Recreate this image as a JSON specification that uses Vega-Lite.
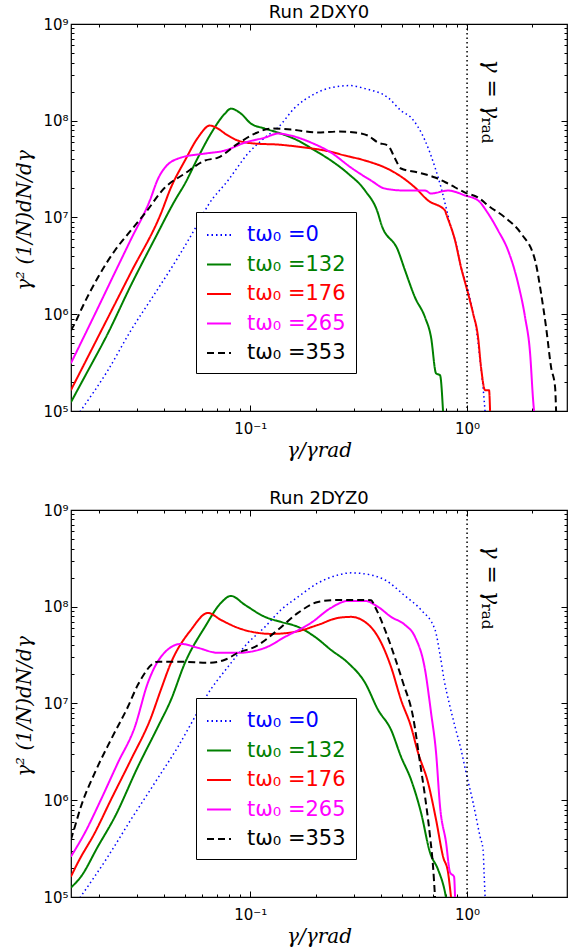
{
 "$schema": "https://vega.github.io/schema/vega-lite/v6.json",
 "background": "white",
 "padding": {"left": 14, "top": 3, "right": 2, "bottom": 0},
 "spacing": 28,
 "config": {
  "view": {"stroke": "black", "strokeWidth": 1.2},
  "font": "DejaVu Sans",
  "title": {"font": "DejaVu Sans", "fontSize": 18, "fontWeight": "normal", "color": "black", "offset": -5},
  "axis": {"grid": false, "domain": false, "tickColor": "black", "tickWidth": 1, "labelColor": "black", "labelFont": "DejaVu Sans", "labelFontSize": 15, "titleFont": "DejaVu Serif", "titleFontStyle": "italic", "titleFontWeight": "normal", "titleFontSize": 20, "titleColor": "black", "labelFlush": false, "labelOverlap": false, "labelBound": false, "zindex": 1}
 },
 "resolve": {"scale": {"color": "independent", "strokeDash": "independent"}},
 "datasets": {
  "top": [
   {"t":0,"x":0.01637,"y":98000},{"t":0,"x":0.02204,"y":263000},{"t":0,"x":0.02815,"y":681000},{"t":0,"x":0.03633,"y":1640000},{"t":0,"x":0.04639,"y":3860000},{"t":0,"x":0.05737,"y":8670000},{"t":0,"x":0.0638,"y":13300000},{"t":0,"x":0.07889,"y":24100000},{"t":0,"x":0.09759,"y":45800000},{"t":0,"x":0.1169,"y":67000000},{"t":0,"x":0.1342,"y":85000000},{"t":0,"x":0.1608,"y":136700000},{"t":0,"x":0.1989,"y":190700000},{"t":0,"x":0.2357,"y":219900000},{"t":0,"x":0.2884,"y":231000000},{"t":0,"x":0.3383,"y":214800000},{"t":0,"x":0.4319,"y":173400000},{"t":0,"x":0.4958,"y":127300000},{"t":0,"x":0.5516,"y":107800000},{"t":0,"x":0.64,"y":62400000},{"t":0,"x":0.7118,"y":32800000},{"t":0,"x":0.7586,"y":20400000},{"t":0,"x":0.8,"y":12700000},{"t":0,"x":0.8437,"y":7880000},{"t":0,"x":0.8896,"y":5390000},{"t":0,"x":0.9382,"y":3050000},{"t":0,"x":1.0107,"y":1760000},{"t":0,"x":1.066,"y":1020000},{"t":0,"x":1.1,"y":731000},{"t":0,"x":1.148,"y":334000},{"t":0,"x":1.185,"y":176000},{"t":0,"x":1.211,"y":98000},
   {"t":132,"x":0.01488,"y":123000},{"t":132,"x":0.01727,"y":228000},{"t":132,"x":0.02204,"y":634000},{"t":132,"x":0.02815,"y":1990000},{"t":132,"x":0.03633,"y":6070000},{"t":132,"x":0.04493,"y":15000000},{"t":132,"x":0.04997,"y":22400000},{"t":132,"x":0.05737,"y":41600000},{"t":132,"x":0.06586,"y":73700000},{"t":132,"x":0.07641,"y":118500000},{"t":132,"x":0.08144,"y":133500000},{"t":132,"x":0.0906,"y":118500000},{"t":132,"x":0.1007,"y":93500000},{"t":132,"x":0.1169,"y":83000000},{"t":132,"x":0.1385,"y":73700000},{"t":132,"x":0.166,"y":62400000},{"t":132,"x":0.1989,"y":49200000},{"t":132,"x":0.2357,"y":38800000},{"t":132,"x":0.2824,"y":28500000},{"t":132,"x":0.3383,"y":19000000},{"t":132,"x":0.3885,"y":11000000},{"t":132,"x":0.401,"y":8670000},{"t":132,"x":0.4803,"y":4560000},{"t":132,"x":0.5174,"y":2840000},{"t":132,"x":0.5754,"y":1490000},{"t":132,"x":0.64,"y":928000},{"t":132,"x":0.6822,"y":577000},{"t":132,"x":0.7194,"y":245000},{"t":132,"x":0.7506,"y":234000},{"t":132,"x":0.7749,"y":98000},
   {"t":176,"x":0.01488,"y":164000},{"t":176,"x":0.01982,"y":577000},{"t":176,"x":0.02815,"y":2700000},{"t":176,"x":0.03872,"y":11000000},{"t":176,"x":0.04307,"y":20400000},{"t":176,"x":0.04997,"y":38800000},{"t":176,"x":0.05737,"y":67000000},{"t":176,"x":0.06516,"y":89100000},{"t":176,"x":0.07095,"y":83000000},{"t":176,"x":0.07641,"y":73700000},{"t":176,"x":0.08773,"y":62400000},{"t":176,"x":0.1051,"y":58100000},{"t":176,"x":0.1342,"y":56700000},{"t":176,"x":0.1788,"y":52800000},{"t":176,"x":0.2212,"y":49200000},{"t":176,"x":0.2735,"y":43700000},{"t":176,"x":0.3383,"y":38800000},{"t":176,"x":0.4184,"y":32800000},{"t":176,"x":0.4459,"y":30600000},{"t":176,"x":0.5754,"y":20400000},{"t":176,"x":0.6607,"y":15000000},{"t":176,"x":0.7916,"y":11800000},{"t":176,"x":0.8,"y":11000000},{"t":176,"x":0.8802,"y":5790000},{"t":176,"x":0.9382,"y":3050000},{"t":176,"x":1.0107,"y":1640000},{"t":176,"x":1.066,"y":1020000},{"t":176,"x":1.124,"y":577000},{"t":176,"x":1.16,"y":283000},{"t":176,"x":1.211,"y":164000},{"t":176,"x":1.263,"y":164000},{"t":176,"x":1.277,"y":98000},
   {"t":265,"x":0.01488,"y":311000},{"t":265,"x":0.01982,"y":1160000},{"t":265,"x":0.02375,"y":2700000},{"t":265,"x":0.02815,"y":5930000},{"t":265,"x":0.03444,"y":15000000},{"t":265,"x":0.0375,"y":25000000},{"t":265,"x":0.04041,"y":32800000},{"t":265,"x":0.04789,"y":41600000},{"t":265,"x":0.0618,"y":45800000},{"t":265,"x":0.07641,"y":49200000},{"t":265,"x":0.09452,"y":59500000},{"t":265,"x":0.1169,"y":67000000},{"t":265,"x":0.1342,"y":73700000},{"t":265,"x":0.1541,"y":70200000},{"t":265,"x":0.1906,"y":59500000},{"t":265,"x":0.2357,"y":46900000},{"t":265,"x":0.2915,"y":32800000},{"t":265,"x":0.3606,"y":24100000},{"t":265,"x":0.4184,"y":19900000},{"t":265,"x":0.5174,"y":19000000},{"t":265,"x":0.64,"y":19000000},{"t":265,"x":0.6822,"y":17700000},{"t":265,"x":0.8171,"y":19000000},{"t":265,"x":0.979,"y":16900000},{"t":265,"x":1.124,"y":15000000},{"t":265,"x":1.25,"y":11000000},{"t":265,"x":1.39,"y":7340000},{"t":265,"x":1.546,"y":4560000},{"t":265,"x":1.719,"y":2080000},{"t":265,"x":1.852,"y":928000},{"t":265,"x":1.953,"y":394000},{"t":265,"x":2.017,"y":129000},{"t":265,"x":2.038,"y":98000},
   {"t":353,"x":0.01488,"y":681000},{"t":353,"x":0.01552,"y":804000},{"t":353,"x":0.01655,"y":1100000},{"t":353,"x":0.01982,"y":2400000},{"t":353,"x":0.02375,"y":4560000},{"t":353,"x":0.02815,"y":7340000},{"t":353,"x":0.03266,"y":11000000},{"t":353,"x":0.04041,"y":20400000},{"t":353,"x":0.04997,"y":28500000},{"t":353,"x":0.0618,"y":38800000},{"t":353,"x":0.07095,"y":41600000},{"t":353,"x":0.08773,"y":58100000},{"t":353,"x":0.1051,"y":73700000},{"t":353,"x":0.1246,"y":83000000},{"t":353,"x":0.1541,"y":81000000},{"t":353,"x":0.2053,"y":75500000},{"t":353,"x":0.254,"y":77300000},{"t":353,"x":0.3042,"y":75500000},{"t":353,"x":0.3492,"y":70200000},{"t":353,"x":0.3885,"y":59500000},{"t":353,"x":0.4319,"y":55400000},{"t":353,"x":0.4652,"y":40700000},{"t":353,"x":0.4958,"y":32100000},{"t":353,"x":0.5941,"y":29200000},{"t":353,"x":0.7118,"y":25900000},{"t":353,"x":0.8171,"y":22400000},{"t":353,"x":0.979,"y":18100000},{"t":353,"x":1.124,"y":16100000},{"t":353,"x":1.25,"y":13300000},{"t":353,"x":1.497,"y":10000000},{"t":353,"x":1.775,"y":6840000},{"t":353,"x":2.06,"y":3600000},{"t":353,"x":2.195,"y":1640000},{"t":353,"x":2.315,"y":731000},{"t":353,"x":2.441,"y":283000},{"t":353,"x":2.547,"y":176000},{"t":353,"x":2.574,"y":98000}
  ],
  "bot": [
   {"t":0,"x":0.01637,"y":98000},{"t":0,"x":0.02204,"y":261000},{"t":0,"x":0.02815,"y":630000},{"t":0,"x":0.03633,"y":1520000},{"t":0,"x":0.04639,"y":3570000},{"t":0,"x":0.05557,"y":7290000},{"t":0,"x":0.06246,"y":11700000},{"t":0,"x":0.07889,"y":23900000},{"t":0,"x":0.09759,"y":42400000},{"t":0,"x":0.1169,"y":61900000},{"t":0,"x":0.1385,"y":92800000},{"t":0,"x":0.166,"y":126400000},{"t":0,"x":0.2053,"y":176000000},{"t":0,"x":0.254,"y":213000000},{"t":0,"x":0.2915,"y":224000000},{"t":0,"x":0.3606,"y":213000000},{"t":0,"x":0.4184,"y":189000000},{"t":0,"x":0.5174,"y":129400000},{"t":0,"x":0.6133,"y":92800000},{"t":0,"x":0.7118,"y":57700000},{"t":0,"x":0.7506,"y":31800000},{"t":0,"x":0.7833,"y":17600000},{"t":0,"x":0.8259,"y":10200000},{"t":0,"x":0.8802,"y":5750000},{"t":0,"x":0.9382,"y":3330000},{"t":0,"x":0.9894,"y":1930000},{"t":0,"x":1.066,"y":944000},{"t":0,"x":1.148,"y":421000},{"t":0,"x":1.185,"y":309000},{"t":0,"x":1.198,"y":179000},{"t":0,"x":1.211,"y":98000},
   {"t":132,"x":0.01488,"y":125000},{"t":132,"x":0.01655,"y":162000},{"t":132,"x":0.01982,"y":332000},{"t":132,"x":0.02375,"y":676000},{"t":132,"x":0.03032,"y":2220000},{"t":132,"x":0.03751,"y":5750000},{"t":132,"x":0.04307,"y":10900000},{"t":132,"x":0.04997,"y":26300000},{"t":132,"x":0.0618,"y":61900000},{"t":132,"x":0.07325,"y":109600000},{"t":132,"x":0.08144,"y":129400000},{"t":132,"x":0.09452,"y":104500000},{"t":132,"x":0.1169,"y":78600000},{"t":132,"x":0.1385,"y":69700000},{"t":132,"x":0.166,"y":61900000},{"t":132,"x":0.1989,"y":48800000},{"t":132,"x":0.2357,"y":35800000},{"t":132,"x":0.2824,"y":26300000},{"t":132,"x":0.3383,"y":16400000},{"t":132,"x":0.3885,"y":8610000},{"t":132,"x":0.4459,"y":5350000},{"t":132,"x":0.4958,"y":2820000},{"t":132,"x":0.5516,"y":1630000},{"t":132,"x":0.6133,"y":744000},{"t":132,"x":0.675,"y":287000},{"t":132,"x":0.7349,"y":192000},{"t":132,"x":0.7916,"y":111000},{"t":132,"x":0.8,"y":98000},
   {"t":176,"x":0.01488,"y":162000},{"t":176,"x":0.01603,"y":227000},{"t":176,"x":0.0192,"y":462000},{"t":176,"x":0.02276,"y":1010000},{"t":176,"x":0.02815,"y":2620000},{"t":176,"x":0.03481,"y":7120000},{"t":176,"x":0.03872,"y":13900000},{"t":176,"x":0.04307,"y":26300000},{"t":176,"x":0.05326,"y":57700000},{"t":176,"x":0.0638,"y":86400000},{"t":176,"x":0.07325,"y":73100000},{"t":176,"x":0.08773,"y":60500000},{"t":176,"x":0.1085,"y":53700000},{"t":176,"x":0.1246,"y":52400000},{"t":176,"x":0.1608,"y":55000000},{"t":176,"x":0.2053,"y":64900000},{"t":176,"x":0.254,"y":76700000},{"t":176,"x":0.2915,"y":78600000},{"t":176,"x":0.3383,"y":69700000},{"t":176,"x":0.3885,"y":48800000},{"t":176,"x":0.4459,"y":23900000},{"t":176,"x":0.4958,"y":10900000},{"t":176,"x":0.5516,"y":5750000},{"t":176,"x":0.5941,"y":3100000},{"t":176,"x":0.6607,"y":1520000},{"t":176,"x":0.7194,"y":630000},{"t":176,"x":0.7749,"y":261000},{"t":176,"x":0.8171,"y":179000},{"t":176,"x":0.8437,"y":98000},
   {"t":265,"x":0.01488,"y":261000},{"t":265,"x":0.01727,"y":462000},{"t":265,"x":0.02046,"y":1010000},{"t":265,"x":0.02452,"y":2440000},{"t":265,"x":0.02937,"y":5750000},{"t":265,"x":0.03372,"y":16400000},{"t":265,"x":0.03872,"y":30300000},{"t":265,"x":0.04789,"y":41300000},{"t":265,"x":0.05737,"y":37600000},{"t":265,"x":0.07095,"y":33400000},{"t":265,"x":0.08773,"y":33400000},{"t":265,"x":0.1169,"y":37600000},{"t":265,"x":0.1446,"y":48800000},{"t":265,"x":0.1906,"y":68100000},{"t":265,"x":0.2357,"y":97300000},{"t":265,"x":0.2824,"y":114900000},{"t":265,"x":0.3383,"y":114900000},{"t":265,"x":0.3885,"y":99700000},{"t":265,"x":0.4459,"y":78600000},{"t":265,"x":0.5174,"y":64900000},{"t":265,"x":0.5754,"y":48800000},{"t":265,"x":0.64,"y":22300000},{"t":265,"x":0.6822,"y":8020000},{"t":265,"x":0.7194,"y":3100000},{"t":265,"x":0.7506,"y":858000},{"t":265,"x":0.8,"y":365000},{"t":265,"x":0.8348,"y":179000},{"t":265,"x":0.871,"y":162000},{"t":265,"x":0.8802,"y":98000},
   {"t":353,"x":0.01488,"y":391000},{"t":353,"x":0.01552,"y":533000},{"t":353,"x":0.01655,"y":858000},{"t":353,"x":0.0192,"y":1930000},{"t":353,"x":0.02276,"y":4220000},{"t":353,"x":0.02727,"y":9250000},{"t":353,"x":0.03032,"y":15600000},{"t":353,"x":0.03751,"y":27000000},{"t":353,"x":0.04789,"y":27000000},{"t":353,"x":0.0638,"y":26300000},{"t":353,"x":0.07641,"y":28300000},{"t":353,"x":0.08773,"y":33400000},{"t":353,"x":0.1051,"y":38500000},{"t":353,"x":0.1342,"y":57700000},{"t":353,"x":0.166,"y":86400000},{"t":353,"x":0.2053,"y":112200000},{"t":353,"x":0.254,"y":117700000},{"t":353,"x":0.3042,"y":117700000},{"t":353,"x":0.3606,"y":117000000},{"t":353,"x":0.3761,"y":99700000},{"t":353,"x":0.4184,"y":57700000},{"t":353,"x":0.4652,"y":29600000},{"t":353,"x":0.5066,"y":16400000},{"t":353,"x":0.5633,"y":7290000},{"t":353,"x":0.6068,"y":2440000},{"t":353,"x":0.64,"y":1090000},{"t":353,"x":0.675,"y":421000},{"t":353,"x":0.6968,"y":206000},{"t":353,"x":0.7118,"y":98000}
  ]
 },
 "vconcat": [
  {
   "title": "Run 2DXY0",
   "width": 496, "height": 387,
   "resolve": {"axis": {"x": "independent", "y": "independent"}},
   "layer": [
    {"data": {"name": "top"}, "mark": {"type": "line", "clip": true, "interpolate": "monotone"},
     "encoding": {
      "x": {"field": "x", "type": "quantitative", "scale": {"type": "log", "domain": [0.0149, 2.89], "nice": false},
            "axis": {"orient": "bottom", "title": "γ/γrad", "values": [0.02,0.03,0.04,0.05,0.06,0.07,0.08,0.09,0.1,0.2,0.3,0.4,0.5,0.6,0.7,0.8,0.9,1,2],
                     "labelExpr": "abs(log(datum.value)/LN10 - round(log(datum.value)/LN10)) < 0.001 ? (round(log(datum.value)/LN10) == -1 ? '10⁻¹' : round(log(datum.value)/LN10) == 0 ? '10⁰' : '') : ''",
                     "tickSize": {"condition": {"test": "abs(log(datum.value)/LN10 - round(log(datum.value)/LN10)) > 0.001", "value": -3}, "value": -6},
                     "labelPadding": 16, "titlePadding": 1}},
      "y": {"field": "y", "type": "quantitative", "scale": {"type": "log", "domain": [100000, 1000000000], "nice": false},
            "axis": {"orient": "left", "title": "γ² (1/N)dN/dγ", "titleFontSize": 20, "titleAnchor": "middle", "titleAlign": "center", "titleY": 196, "values": [100000,200000,300000,400000,500000,600000,700000,800000,900000,1000000,2000000,3000000,4000000,5000000,6000000,7000000,8000000,9000000,10000000,20000000,30000000,40000000,50000000,60000000,70000000,80000000,90000000,100000000,200000000,300000000,400000000,500000000,600000000,700000000,800000000,900000000,1000000000],
                     "labelExpr": "abs(log(datum.value)/LN10 - round(log(datum.value)/LN10)) < 0.001 ? (round(log(datum.value)/LN10) == 5 ? '10⁵' : round(log(datum.value)/LN10) == 6 ? '10⁶' : round(log(datum.value)/LN10) == 7 ? '10⁷' : round(log(datum.value)/LN10) == 8 ? '10⁸' : '10⁹') : ''",
                     "tickSize": {"condition": {"test": "abs(log(datum.value)/LN10 - round(log(datum.value)/LN10)) > 0.001", "value": -3}, "value": -6},
                     "labelPadding": 9, "titlePadding": 8}},
      "color": {"field": "t", "type": "nominal", "scale": {"domain": [0,132,176,265,353], "range": ["#0000ff","#008000","#ff0000","#ff00ff","#000000"]},
                "legend": {"orient": "none", "legendX": 125, "legendY": 188, "title": null, "labelExpr": "'tω₀ =' + datum.label", "labelFont": "DejaVu Sans", "labelFontSize": 21, "labelLimit": 0, "labelOffset": 15, "symbolType": "stroke", "symbolSize": 576, "symbolStrokeWidth": 2, "rowPadding": 6.5, "padding": 10, "strokeColor": "black", "fillColor": "white", "cornerRadius": 0,
                           "encode": {"labels": {"update": {"fill": {"signal": "datum.value == 0 ? '#0000ff' : datum.value == 132 ? '#008000' : datum.value == 176 ? '#ff0000' : datum.value == 265 ? '#ff00ff' : '#000000'"}}}}}},
      "strokeDash": {"field": "t", "type": "nominal", "scale": {"domain": [0,132,176,265,353], "range": [[1.5,3],[1,0],[1,0],[1,0],[7,4]]},
                "legend": {"orient": "none", "legendX": 125, "legendY": 188, "title": null, "labelExpr": "'tω₀ =' + datum.label", "labelFont": "DejaVu Sans", "labelFontSize": 21, "labelLimit": 0, "labelOffset": 15, "symbolType": "stroke", "symbolSize": 576, "symbolStrokeWidth": 2, "rowPadding": 6.5, "padding": 10, "strokeColor": "black", "fillColor": "white", "cornerRadius": 0,
                           "encode": {"labels": {"update": {"fill": {"signal": "datum.value == 0 ? '#0000ff' : datum.value == 132 ? '#008000' : datum.value == 176 ? '#ff0000' : datum.value == 265 ? '#ff00ff' : '#000000'"}}}}}},
      "strokeWidth": {"condition": {"test": "datum.t == 0", "value": 1.5}, "value": 2}
     }},
    {"data": {"values": [{}]}, "mark": {"type": "rule", "strokeDash": [1.5, 3], "strokeWidth": 1.5, "color": "black"},
     "encoding": {"x": {"datum": 1, "type": "quantitative",
       "axis": {"orient": "top", "title": null, "labels": false, "values": [0.02,0.03,0.04,0.05,0.06,0.07,0.08,0.09,0.1,0.2,0.3,0.4,0.5,0.6,0.7,0.8,0.9,1,2],
                "tickSize": {"condition": {"test": "abs(log(datum.value)/LN10 - round(log(datum.value)/LN10)) > 0.001", "value": -3}, "value": -6}}}}},
    {"data": {"values": [{}]}, "mark": {"type": "text", "text": "γ = γ", "angle": 90, "align": "left", "baseline": "middle", "font": "DejaVu Serif", "fontStyle": "italic", "fontSize": 22, "color": "black"},
     "encoding": {"x": {"datum": 1.3, "type": "quantitative", "axis": null},
      "y": {"datum": 430000000, "type": "quantitative",
       "axis": {"orient": "right", "title": null, "labels": false, "values": [100000,200000,300000,400000,500000,600000,700000,800000,900000,1000000,2000000,3000000,4000000,5000000,6000000,7000000,8000000,9000000,10000000,20000000,30000000,40000000,50000000,60000000,70000000,80000000,90000000,100000000,200000000,300000000,400000000,500000000,600000000,700000000,800000000,900000000,1000000000],
                "tickSize": {"condition": {"test": "abs(log(datum.value)/LN10 - round(log(datum.value)/LN10)) > 0.001", "value": -3}, "value": -6}}}}},
    {"data": {"values": [{}]}, "mark": {"type": "text", "text": "rad", "angle": 90, "align": "left", "baseline": "middle", "font": "DejaVu Serif", "fontSize": 15, "color": "black"},
     "encoding": {"x": {"datum": 1.24, "type": "quantitative", "axis": null}, "y": {"datum": 107800000, "type": "quantitative", "axis": null}}}
   ]
  },
  {
   "title": "Run 2DYZ0",
   "width": 496, "height": 387,
   "resolve": {"axis": {"x": "independent", "y": "independent"}},
   "layer": [
    {"data": {"name": "bot"}, "mark": {"type": "line", "clip": true, "interpolate": "monotone"},
     "encoding": {
      "x": {"field": "x", "type": "quantitative", "scale": {"type": "log", "domain": [0.0149, 2.89], "nice": false},
            "axis": {"orient": "bottom", "title": "γ/γrad", "values": [0.02,0.03,0.04,0.05,0.06,0.07,0.08,0.09,0.1,0.2,0.3,0.4,0.5,0.6,0.7,0.8,0.9,1,2],
                     "labelExpr": "abs(log(datum.value)/LN10 - round(log(datum.value)/LN10)) < 0.001 ? (round(log(datum.value)/LN10) == -1 ? '10⁻¹' : round(log(datum.value)/LN10) == 0 ? '10⁰' : '') : ''",
                     "tickSize": {"condition": {"test": "abs(log(datum.value)/LN10 - round(log(datum.value)/LN10)) > 0.001", "value": -3}, "value": -6},
                     "labelPadding": 16, "titlePadding": 1}},
      "y": {"field": "y", "type": "quantitative", "scale": {"type": "log", "domain": [100000, 1000000000], "nice": false},
            "axis": {"orient": "left", "title": "γ² (1/N)dN/dγ", "titleFontSize": 20, "titleAnchor": "middle", "titleAlign": "center", "titleY": 196, "values": [100000,200000,300000,400000,500000,600000,700000,800000,900000,1000000,2000000,3000000,4000000,5000000,6000000,7000000,8000000,9000000,10000000,20000000,30000000,40000000,50000000,60000000,70000000,80000000,90000000,100000000,200000000,300000000,400000000,500000000,600000000,700000000,800000000,900000000,1000000000],
                     "labelExpr": "abs(log(datum.value)/LN10 - round(log(datum.value)/LN10)) < 0.001 ? (round(log(datum.value)/LN10) == 5 ? '10⁵' : round(log(datum.value)/LN10) == 6 ? '10⁶' : round(log(datum.value)/LN10) == 7 ? '10⁷' : round(log(datum.value)/LN10) == 8 ? '10⁸' : '10⁹') : ''",
                     "tickSize": {"condition": {"test": "abs(log(datum.value)/LN10 - round(log(datum.value)/LN10)) > 0.001", "value": -3}, "value": -6},
                     "labelPadding": 9, "titlePadding": 8}},
      "color": {"field": "t", "type": "nominal", "scale": {"domain": [0,132,176,265,353], "range": ["#0000ff","#008000","#ff0000","#ff00ff","#000000"]},
                "legend": {"orient": "none", "legendX": 125, "legendY": 188, "title": null, "labelExpr": "'tω₀ =' + datum.label", "labelFont": "DejaVu Sans", "labelFontSize": 21, "labelLimit": 0, "labelOffset": 15, "symbolType": "stroke", "symbolSize": 576, "symbolStrokeWidth": 2, "rowPadding": 6.5, "padding": 10, "strokeColor": "black", "fillColor": "white", "cornerRadius": 0,
                           "encode": {"labels": {"update": {"fill": {"signal": "datum.value == 0 ? '#0000ff' : datum.value == 132 ? '#008000' : datum.value == 176 ? '#ff0000' : datum.value == 265 ? '#ff00ff' : '#000000'"}}}}}},
      "strokeDash": {"field": "t", "type": "nominal", "scale": {"domain": [0,132,176,265,353], "range": [[1.5,3],[1,0],[1,0],[1,0],[7,4]]},
                "legend": {"orient": "none", "legendX": 125, "legendY": 188, "title": null, "labelExpr": "'tω₀ =' + datum.label", "labelFont": "DejaVu Sans", "labelFontSize": 21, "labelLimit": 0, "labelOffset": 15, "symbolType": "stroke", "symbolSize": 576, "symbolStrokeWidth": 2, "rowPadding": 6.5, "padding": 10, "strokeColor": "black", "fillColor": "white", "cornerRadius": 0,
                           "encode": {"labels": {"update": {"fill": {"signal": "datum.value == 0 ? '#0000ff' : datum.value == 132 ? '#008000' : datum.value == 176 ? '#ff0000' : datum.value == 265 ? '#ff00ff' : '#000000'"}}}}}},
      "strokeWidth": {"condition": {"test": "datum.t == 0", "value": 1.5}, "value": 2}
     }},
    {"data": {"values": [{}]}, "mark": {"type": "rule", "strokeDash": [1.5, 3], "strokeWidth": 1.5, "color": "black"},
     "encoding": {"x": {"datum": 1, "type": "quantitative",
       "axis": {"orient": "top", "title": null, "labels": false, "values": [0.02,0.03,0.04,0.05,0.06,0.07,0.08,0.09,0.1,0.2,0.3,0.4,0.5,0.6,0.7,0.8,0.9,1,2],
                "tickSize": {"condition": {"test": "abs(log(datum.value)/LN10 - round(log(datum.value)/LN10)) > 0.001", "value": -3}, "value": -6}}}}},
    {"data": {"values": [{}]}, "mark": {"type": "text", "text": "γ = γ", "angle": 90, "align": "left", "baseline": "middle", "font": "DejaVu Serif", "fontStyle": "italic", "fontSize": 22, "color": "black"},
     "encoding": {"x": {"datum": 1.3, "type": "quantitative", "axis": null},
      "y": {"datum": 430000000, "type": "quantitative",
       "axis": {"orient": "right", "title": null, "labels": false, "values": [100000,200000,300000,400000,500000,600000,700000,800000,900000,1000000,2000000,3000000,4000000,5000000,6000000,7000000,8000000,9000000,10000000,20000000,30000000,40000000,50000000,60000000,70000000,80000000,90000000,100000000,200000000,300000000,400000000,500000000,600000000,700000000,800000000,900000000,1000000000],
                "tickSize": {"condition": {"test": "abs(log(datum.value)/LN10 - round(log(datum.value)/LN10)) > 0.001", "value": -3}, "value": -6}}}}},
    {"data": {"values": [{}]}, "mark": {"type": "text", "text": "rad", "angle": 90, "align": "left", "baseline": "middle", "font": "DejaVu Serif", "fontSize": 15, "color": "black"},
     "encoding": {"x": {"datum": 1.24, "type": "quantitative", "axis": null}, "y": {"datum": 107800000, "type": "quantitative", "axis": null}}}
   ]
  }
 ]
}
